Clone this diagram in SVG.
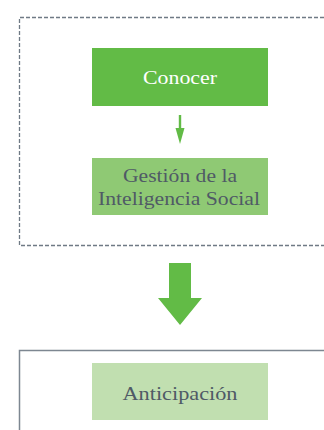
<svg xmlns="http://www.w3.org/2000/svg" width="324" height="430" viewBox="0 0 324 430">
<style>
text{font-family:'Liberation Serif','DejaVu Serif',serif;font-size:19px;text-anchor:middle}
.dark{fill:#4f5a66}
</style>
<rect width="324" height="430" fill="#ffffff"/>
<g id="frame-top">
<path d="M330 17.5 H19.5 V245.5 H330" fill="none" stroke="#6f7a85" stroke-width="1.3" stroke-dasharray="4 2"/>
</g>
<g id="frame-bottom">
<path d="M330 350.5 H19.5 V440" fill="none" stroke="#7d8791" stroke-width="1.5"/>
</g>
<g id="conocer">
<rect x="92" y="48" width="176" height="58" fill="#62bb46"/>
<text x="180" y="84" fill="#ffffff" font-family="Liberation Serif, serif" textLength="74" lengthAdjust="spacingAndGlyphs">Conocer</text>
</g>
<g id="gestion">
<rect x="92" y="158" width="176" height="57" fill="#8fc974"/>
<text class="dark" x="180" y="182" font-family="Liberation Serif, serif" textLength="114" lengthAdjust="spacingAndGlyphs">Gestión de la</text>
<text class="dark" x="179" y="205" font-family="Liberation Serif, serif" textLength="162" lengthAdjust="spacingAndGlyphs">Inteligencia Social</text>
</g>
<g id="anticipacion">
<rect x="92" y="363" width="176" height="57" fill="#c1dfb0"/>
<text class="dark" x="180" y="400" font-family="Liberation Serif, serif" textLength="115" lengthAdjust="spacingAndGlyphs">Anticipación</text>
</g>
<g id="connectors">
<path d="M178.8 115 H181.2 V128 H184.5 L180 144 L175.5 128 H178.8 Z" fill="#62bb46"/>
<path d="M169 263 H191 V298 H202 L180 325 L158 298 H169 Z" fill="#62bb46"/>
</g>
</svg>
